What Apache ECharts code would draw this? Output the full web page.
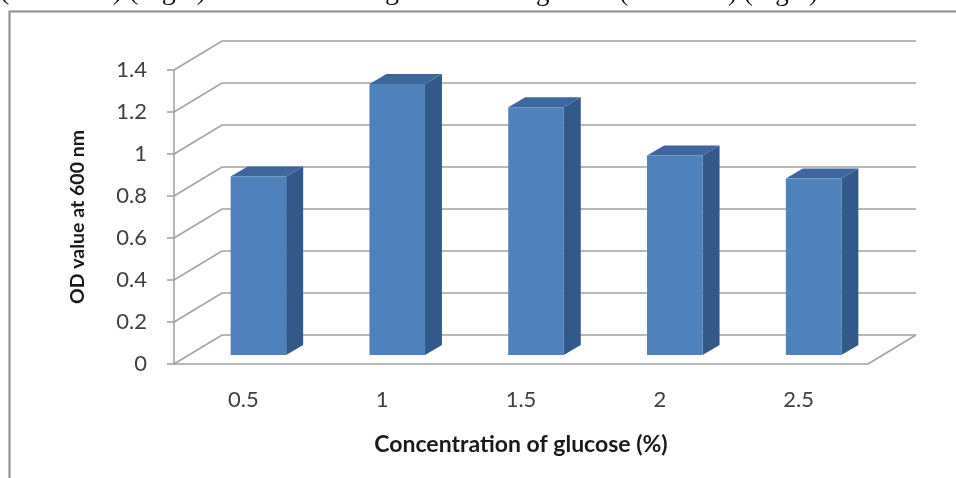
<!DOCTYPE html>
<html>
<head>
<meta charset="utf-8">
<script src="https://cdn.jsdelivr.net/npm/echarts@6/dist/echarts.min.js"></script>
<style>
  html, body { margin: 0; padding: 0; background: #fff; }
  #chart { width: 956px; height: 478px; }
</style>
</head>
<body>
<div id="chart"></div>
<script>
// Glucose concentration (%) and measured optical density at 600 nm
const categories = ['0.5', '1', '1.5', '2', '2.5'];
const odValues = [0.85, 1.29, 1.18, 0.95, 0.84];
const yTicks = [0, 0.2, 0.4, 0.6, 0.8, 1, 1.2, 1.4];

// Oblique 3D projection: depth of the plot box and bar placement within it
const DEPTH_X = 48, DEPTH_Y = -29;
const BAR_OFF_X = 15, BAR_OFF_Y = -9;
const BAR_DX = 17, BAR_DY = -10;
const BAR_FRACTION = 0.4;

const GRID_COLOR = '#a3a3a3';
const FRONT = '#4f81bd', SIDE = '#33598a', TOP = '#3d679d';
const FONT = 'Lato';

const chart = echarts.init(document.getElementById('chart'));

function wallItem(params, api) {
  const cs = params.coordSys;
  const v = api.value(1);
  const y = api.coord([0, v])[1];
  const x0 = cs.x, x1 = cs.x + cs.width;
  const style = { stroke: GRID_COLOR, lineWidth: 1.6, fill: null };
  const children = [{
    type: 'polyline',
    shape: { points: [[x0, y], [x0 + DEPTH_X, y + DEPTH_Y], [x1 + DEPTH_X, y + DEPTH_Y]] },
    style: style
  }];
  if (v === 0) {
    children.push({
      type: 'line',
      shape: { x1: x1, y1: y, x2: x1 + DEPTH_X, y2: y + DEPTH_Y },
      style: style
    });
  }
  return { type: 'group', children: children };
}

function barItem(params, api) {
  const i = api.value(0);
  const v = api.value(1);
  const base = api.coord([i, 0]);
  const topPt = api.coord([i, v]);
  const w = api.size([1, 0])[0] * BAR_FRACTION;
  const L = base[0] - w / 2 + BAR_OFF_X;
  const R = base[0] + w / 2 + BAR_OFF_X;
  const B = base[1] + BAR_OFF_Y;
  const T = topPt[1] + BAR_OFF_Y;
  return {
    type: 'group',
    children: [
      { type: 'polygon',
        shape: { points: [[R, T], [R + BAR_DX, T + BAR_DY], [R + BAR_DX, B + BAR_DY], [R, B]] },
        style: { fill: SIDE } },
      { type: 'polygon',
        shape: { points: [[L, T], [L + BAR_DX, T + BAR_DY], [R + BAR_DX, T + BAR_DY], [R, T]] },
        style: { fill: TOP } },
      { type: 'rect',
        shape: { x: L, y: T, width: R - L, height: B - T },
        style: { fill: FRONT } }
    ]
  };
}

const option = {
  animation: false,
  backgroundColor: '#ffffff',
  grid: { left: 174, right: 88, top: 70, bottom: 114, containLabel: false },
  graphic: [
    { type: 'rect', left: 7, top: 9,
      shape: { x: 0, y: 0, width: 960, height: 480 },
      style: { fill: null, stroke: '#8c8c8c', lineWidth: 2 } },
    { type: 'text', x: 0, y: 6,
      style: { text: '(0.9 6 OD) (Fig 8). The ideal nitrogen', fill: '#111',
        font: '28px "Liberation Serif"', textVerticalAlign: 'bottom' } },
    { type: 'text', x: 536, y: 6,
      style: { text: 'growth (0.9 6 OD) (Fig 9).', fill: '#111',
        font: '27px "Liberation Serif"', textVerticalAlign: 'bottom' } }
  ],
  xAxis: {
    type: 'category',
    data: categories,
    name: 'Concentration of glucose (%)',
    nameLocation: 'middle',
    nameGap: 69,
    nameTextStyle: { fontFamily: FONT, fontWeight: 'bold', fontSize: 23, color: '#1a1a1a' },
    axisLine: { lineStyle: { color: GRID_COLOR, width: 1.6 } },
    axisTick: { length: 7, lineStyle: { color: GRID_COLOR, width: 1.6 } },
    axisLabel: { margin: 25, fontFamily: FONT, fontSize: 22, color: '#404040' },
    splitLine: { show: false }
  },
  yAxis: {
    type: 'value',
    min: 0, max: 1.4, interval: 0.2,
    name: 'OD value at 600 nm',
    nameLocation: 'middle',
    nameGap: 86,
    nameTextStyle: { fontFamily: FONT, fontWeight: 'bold', fontSize: 19.5, color: '#1a1a1a' },
    axisLine: { show: true, lineStyle: { color: GRID_COLOR, width: 1.6 } },
    axisTick: { show: true, length: 7, lineStyle: { color: GRID_COLOR, width: 1.6 } },
    axisLabel: { margin: 27, fontFamily: FONT, fontSize: 22, color: '#404040',
      formatter: function (v) { return String(Math.round(v * 10) / 10); } },
    splitLine: { show: false }
  },
  series: [
    {
      type: 'custom',
      name: 'walls',
      renderItem: wallItem,
      data: yTicks.map(function (v) { return [0, v]; }),
      encode: { x: 0, y: 1 },
      silent: true,
      z: 1
    },
    {
      type: 'custom',
      name: 'OD',
      renderItem: barItem,
      data: odValues.map(function (v, i) { return [i, v]; }),
      encode: { x: 0, y: 1 },
      z: 2
    }
  ]
};

chart.setOption(option);
</script>
</body>
</html>
